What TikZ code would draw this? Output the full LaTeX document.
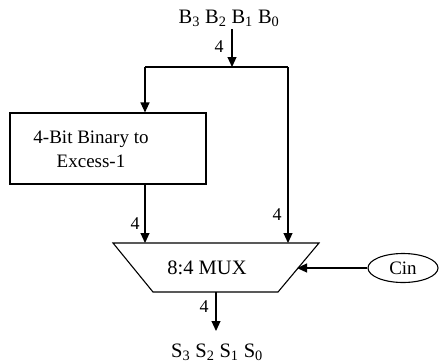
\documentclass[tikz,border=0pt]{standalone}
\usepackage{fontspec}
\setmainfont{Liberation Serif}
\usetikzlibrary{arrows.meta,shapes.geometric}
\begin{document}
\begin{tikzpicture}[x=1pt,y=-1pt,line width=1.1pt,
  >={Triangle[length=10pt,width=9pt]},
  txt/.style={font=\fontsize{19}{23}\selectfont,inner sep=0pt},
  big/.style={font=\fontsize{20.5}{24}\selectfont,inner sep=0pt},
  num/.style={font=\fontsize{18}{22}\selectfont,inner sep=0pt}]
\useasboundingbox (0,0) rectangle (439,362);
% input label
\node[big] (in) at (229,18) {B\textsubscript{3} B\textsubscript{2} B\textsubscript{1} B\textsubscript{0}};
\coordinate (split) at (232,67);
\coordinate (lft) at (145,67);
\coordinate (rgt) at (288,67);
% converter box
\node[draw,minimum width=196pt,minimum height=71pt,inner sep=0pt] (box) at (108,148.5) {};
\node[txt,align=center] (boxtxt) at (91,149) {4-Bit Binary to\\[1pt]Excess-1};
% mux trapezoid
\coordinate (mtl) at (113,243);
\coordinate (mtr) at (319,243);
\coordinate (mbr) at (278,292);
\coordinate (mbl) at (153,292);
\draw (mtl) -- (mtr) -- (mbr) -- (mbl) -- cycle;
\node[big] (mux) at (207,268) {8:4 MUX};
\coordinate (muxin) at (297,268);
\coordinate (muxout) at (216,292);
% cin
\node[draw,ellipse,minimum width=70pt,minimum height=29pt,inner sep=0pt,txt] (cin) at (403,268) {Cin};
% output
\node[big] (out) at (217,352) {S\textsubscript{3} S\textsubscript{2} S\textsubscript{1} S\textsubscript{0}};
\coordinate (outend) at (216,331);
% connectors
\draw[->] (232,29) -- (split);
\draw (lft) -- (rgt);
\draw[->] (lft) -- (lft |- box.north);
\draw[->] (box.south -| lft) -- (lft |- mtl);
\draw[->] (rgt) -- (rgt |- mtr);
\draw[->] (cin.west) -- (muxin);
\draw[->] (muxout) -- (outend);
% bus width labels
\node[num] (n1) at (219,47) {4};
\node[num] (n2) at (135,224) {4};
\node[num] (n3) at (277,215) {4};
\node[num] (n4) at (204,307) {4};
\end{tikzpicture}
\end{document}
